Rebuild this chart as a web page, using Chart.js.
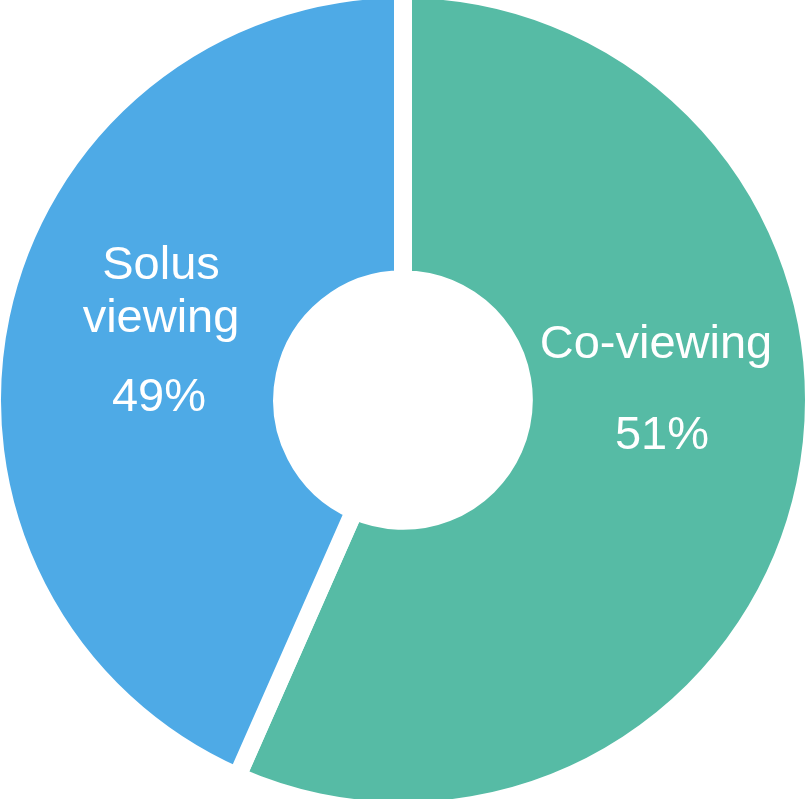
<!DOCTYPE html>
<html lang="en">

<head>
    <meta charset="UTF-8">
    <title>Co-viewing vs Solus viewing</title>
    <script src="https://cdn.jsdelivr.net/npm/chart.js"></script>
    <style>
        html,
        body {
            margin: 0;
            padding: 0;
            background: #ffffff;
            overflow: hidden;
            width: 808px;
            height: 799px;
        }

        #wrap {
            position: absolute;
            left: -17px;
            top: -20px;
            width: 840px;
            height: 840px;
        }
    </style>
</head>

<body>
    <div id="wrap"><canvas id="viewingChart" width="840" height="840"></canvas></div>

    <script>
        // slice shares as drawn in the picture, and the printed labels
        const categories = ["Co-viewing", "Solus viewing"];
        const shares = [56.6, 43.4];
        const percentLabels = ["51%", "49%"];
        const sliceColors = ["#56BBA5", "#4EAAE6"];

        // text lines for each slice, offsets from the doughnut centre
        const labelLines = [
            [
                { text: "Co-viewing", dx: 253, dy: -42 },
                { text: percentLabels[0], dx: 259, dy: 49 }
            ],
            [
                { text: "Solus", dx: -242, dy: -121 },
                { text: "viewing", dx: -242, dy: -68 },
                { text: percentLabels[1], dx: -244, dy: 11 }
            ]
        ];

        const sliceLabels = {
            id: 'sliceLabels',
            afterDatasetsDraw(chart) {
                const ctx = chart.ctx;
                const arcs = chart.getDatasetMeta(0).data;
                ctx.save();
                ctx.fillStyle = '#ffffff';
                ctx.font = '47px "Liberation Sans", Arial, sans-serif';
                ctx.textAlign = 'center';
                ctx.textBaseline = 'alphabetic';
                labelLines.forEach((lines, i) => {
                    const arc = arcs[i];
                    lines.forEach(l => ctx.fillText(l.text, arc.x + l.dx, arc.y + l.dy));
                });
                ctx.restore();
            }
        };

        const ctx = document.getElementById('viewingChart').getContext('2d');
        new Chart(ctx, {
            type: 'doughnut',
            data: {
                labels: categories,
                datasets: [{
                    data: shares,
                    backgroundColor: sliceColors,
                    borderColor: '#ffffff',
                    borderWidth: 18,
                    hoverOffset: 0
                }]
            },
            options: {
                responsive: false,
                animation: false,
                cutout: '29.4%',
                rotation: 0,
                layout: { padding: 0 },
                plugins: {
                    legend: { display: false },
                    tooltip: { enabled: false }
                }
            },
            plugins: [sliceLabels]
        });
    </script>
</body>

</html>
